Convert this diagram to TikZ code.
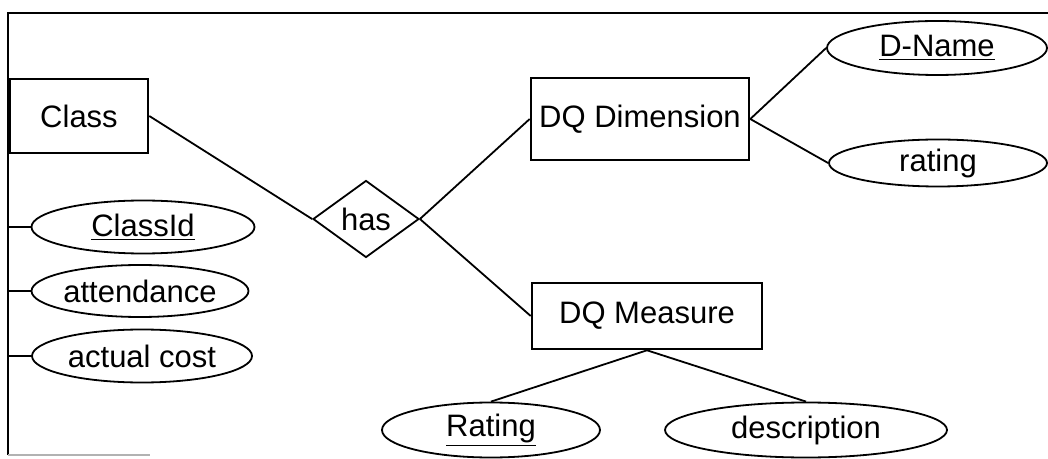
\documentclass[tikz,border=0pt]{standalone}
\usepackage{fontspec}
\setmainfont{Liberation Sans}
\usetikzlibrary{shapes.geometric, positioning}

\begin{document}
\begin{tikzpicture}[
  x=0.5pt, y=-0.5pt,
  entity/.style={rectangle, draw, line width=1.3pt, inner sep=0pt, font=\fontsize{15.5}{18}\selectfont},
  attrib/.style={ellipse, draw, line width=0.9pt, inner sep=0pt, font=\fontsize{15.5}{18}\selectfont},
  relship/.style={diamond, draw, line width=0.9pt, inner sep=0pt, aspect=1.4, font=\fontsize{15.5}{18}\selectfont},
  link/.style={line width=0.9pt}
]
  \useasboundingbox (0,0) rectangle (1048,459);
  % frame
  \draw[line width=1.1pt] (8,455) -- (8,13) -- (1048,13);
  \draw[line width=0.8pt, gray!60] (8,455) -- (150,455);

  % entities and relationship
  \node[entity, minimum width=69pt, minimum height=37pt] (class) at (79,116) {Class};
  \node[relship, minimum width=53pt, minimum height=38.5pt] (has) at (366,219) {has};
  \node[entity, minimum width=109pt, minimum height=41pt] (dqdim) at (640,119) {DQ Dimension};
  \node[entity, minimum width=115pt, minimum height=33pt] (dqmeas) at (647,316) {DQ Measure};

  % attributes
  \node[attrib, minimum width=111.5pt, minimum height=26.5pt] (classid) at (143,227) {\underline{ClassId}};
  \node[attrib, minimum width=108pt, minimum height=26pt] (attend) at (140,291) {attendance};
  \node[attrib, minimum width=110pt, minimum height=26.5pt] (cost) at (142,356) {actual cost};
  \node[attrib, minimum width=110pt, minimum height=27pt] (dname) at (937,48) {\underline{D-Name}};
  \node[attrib, minimum width=109pt, minimum height=23.5pt] (drating) at (938,163) {rating};
  \node[attrib, minimum width=109pt, minimum height=27.5pt] (mrating) at (491,430) {\underline{Rating}};
  \node[attrib, minimum width=141pt, minimum height=27.5pt] (descr) at (806,430) {description};

  \coordinate (f1) at (8,227);
  \coordinate (f2) at (8,291);
  \coordinate (f3) at (8,356);

  % connectors
  \draw[link] (class.east) -- (has.west);
  \draw[link] (has.east) -- (dqdim.west);
  \draw[link] (has.east) -- (dqmeas.west);
  \draw[link] (dqdim.east) -- (dname.west);
  \draw[link] (dqdim.east) -- (drating.west);
  \draw[link] (dqmeas.south) -- (mrating.north);
  \draw[link] (dqmeas.south) -- (descr.north);
  \draw[link] (f1) -- (classid.west);
  \draw[link] (f2) -- (attend.west);
  \draw[link] (f3) -- (cost.west);
\end{tikzpicture}
\end{document}
